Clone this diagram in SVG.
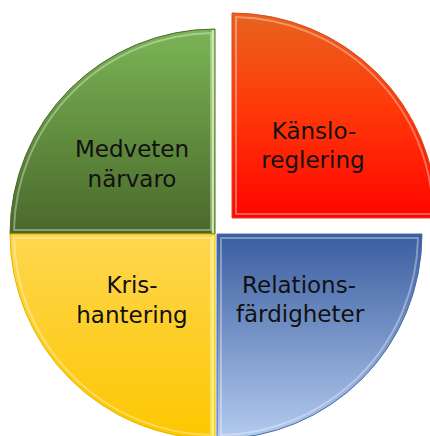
<svg xmlns="http://www.w3.org/2000/svg" width="430" height="436" viewBox="0 0 430 436">
<style>
.lbl{font-family:"DejaVu Sans","Liberation Sans",sans-serif;font-size:23px;fill:#111;text-anchor:middle}
.hl{fill:none;stroke:#fff;stroke-opacity:0.35;stroke-width:2}
.edge{stroke-width:1}
</style>
<defs>
<linearGradient id="gG" x1="0" y1="0" x2="0" y2="1"><stop offset="0" stop-color="#7ab555"/><stop offset="1" stop-color="#4a682a"/></linearGradient>
<linearGradient id="gR" x1="0" y1="0" x2="0" y2="1"><stop offset="0" stop-color="#e8631e"/><stop offset="0.45" stop-color="#ff3a0a"/><stop offset="1" stop-color="#ff0500"/></linearGradient>
<linearGradient id="gY" x1="0" y1="0" x2="0" y2="1"><stop offset="0" stop-color="#ffd650"/><stop offset="1" stop-color="#fcc700"/></linearGradient>
<linearGradient id="gB" x1="0" y1="0" x2="0" y2="1"><stop offset="0" stop-color="#3a5d9f"/><stop offset="1" stop-color="#b4cbef"/></linearGradient>
</defs>
<g id="medveten">
<path d="M215,234 L10,234 A205,205 0 0 1 215,29 Z" fill="url(#gG)" stroke="#4a6a2e" class="edge"/>
<path d="M211,230 L14,230 A201,201 0 0 1 211,33 Z" class="hl"/>
<line x1="213" y1="30" x2="213" y2="233" stroke="#c9eaa0" stroke-width="2.5"/>
<text class="lbl" x="132" y="157">Medveten</text>
<text class="lbl" x="132" y="187">närvaro</text>
</g>
<g id="kanslo">
<path d="M232,218 L232,13 A205,205 0 0 1 437,218 Z" fill="url(#gR)" stroke="#d84a20" class="edge"/>
<path d="M236,214 L236,17 A201,201 0 0 1 433,214 Z" class="hl"/>
<text class="lbl" x="314" y="139">Känslo-</text>
<text class="lbl" x="313" y="168">reglering</text>
</g>
<g id="kris">
<path d="M215,234 L215,439 A205,205 0 0 1 10,234 Z" fill="url(#gY)" stroke="#e6b800" class="edge"/>
<path d="M211,238 L211,435 A201,201 0 0 1 14,238 Z" class="hl"/>
<line x1="213" y1="236" x2="213" y2="436" stroke="#fff27a" stroke-width="2.5"/>
<text class="lbl" x="132" y="293">Kris-</text>
<text class="lbl" x="132" y="323">hantering</text>
</g>
<g id="relations">
<path d="M217,234 L422,234 A205,205 0 0 1 217,439 Z" fill="url(#gB)" stroke="#4a6ba8" class="edge"/>
<path d="M221,238 L418,238 A201,201 0 0 1 221,435 Z" class="hl"/>
<text class="lbl" x="299" y="293">Relations-</text>
<text class="lbl" x="300" y="322">färdigheter</text>
</g>
<g id="connectors"></g>
</svg>
